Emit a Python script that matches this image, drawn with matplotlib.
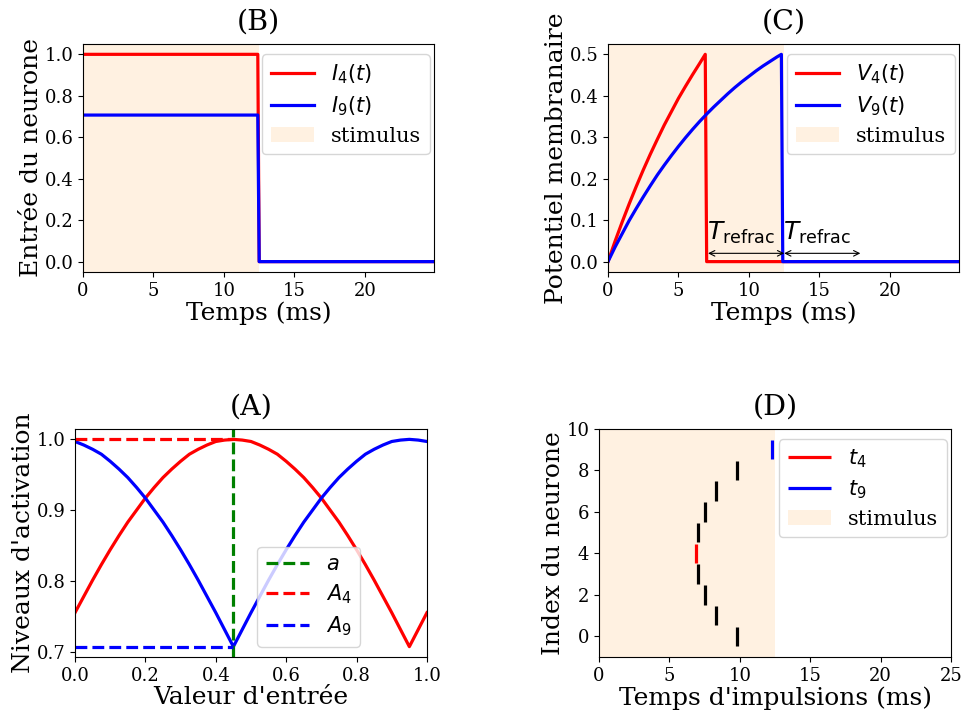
import numpy as np
import matplotlib
matplotlib.use("Agg")
from matplotlib import pyplot as plt

# (B) input currents
t_in = [0.0, 12.4, 12.5, 24.9]
I4 = [1.0, 1.0, 0.0, 0.0]
I9 = [0.707, 0.707, 0.0, 0.0]

# (C) membrane potentials
t_v4 = [0, 0.5, 1, 1.5, 2, 2.5, 3, 3.5, 4, 4.5, 5, 5.5, 6, 6.5, 6.9, 7.0, 24.9]
V4 = [0.0, 0.049, 0.095, 0.139, 0.181, 0.221, 0.259, 0.295, 0.330, 0.362,
      0.394, 0.423, 0.451, 0.478, 0.50, 0.0, 0.0]
t_v9 = [0, 0.5, 1, 1.5, 2, 2.5, 3, 3.5, 4, 4.5, 5, 5.5, 6, 6.5, 7, 7.5, 8,
        8.5, 9, 9.5, 10, 10.5, 11, 11.5, 12, 12.3, 12.4, 24.9]
V9 = [0.0, 0.035, 0.067, 0.099, 0.128, 0.156, 0.183, 0.209, 0.233, 0.256,
      0.278, 0.299, 0.319, 0.338, 0.356, 0.373, 0.389, 0.405, 0.420, 0.434,
      0.447, 0.460, 0.472, 0.483, 0.494, 0.50, 0.0, 0.0]
t_spike4 = 6.9
t_spike9 = 12.3
t_refrac = 5.8

# (A) activation levels
x_in = [0.0, 0.025, 0.05, 0.075, 0.10, 0.125, 0.15, 0.175, 0.20, 0.225,
        0.25, 0.275, 0.30, 0.325, 0.35, 0.375, 0.40, 0.425, 0.45, 0.475,
        0.50, 0.525, 0.55, 0.575, 0.60, 0.625, 0.65, 0.675, 0.70, 0.725,
        0.75, 0.775, 0.80, 0.825, 0.85, 0.875, 0.90, 0.925, 0.95, 0.975, 1.0]
A4 = [0.755, 0.778, 0.801, 0.823, 0.844, 0.864, 0.883, 0.900, 0.917, 0.932,
      0.946, 0.958, 0.969, 0.979, 0.986, 0.992, 0.997, 0.999, 1.000, 0.999,
      0.997, 0.992, 0.986, 0.979, 0.969, 0.958, 0.946, 0.932, 0.917, 0.900,
      0.883, 0.864, 0.844, 0.823, 0.801, 0.778, 0.755, 0.731, 0.707, 0.731, 0.755]
A9 = [0.997, 0.992, 0.986, 0.979, 0.969, 0.958, 0.946, 0.932, 0.917, 0.900,
      0.883, 0.864, 0.844, 0.823, 0.801, 0.778, 0.755, 0.731, 0.707, 0.731,
      0.755, 0.778, 0.801, 0.823, 0.844, 0.864, 0.883, 0.900, 0.917, 0.932,
      0.946, 0.958, 0.969, 0.979, 0.986, 0.992, 0.997, 0.999, 1.000, 0.999, 0.997]
a_val = 0.45
A4_at_a = 1.000
A9_at_a = 0.707

# (D) spike times per neuron
neurons = [0, 1, 2, 3, 4, 5, 6, 7, 8, 9]
spike_times = [9.8, 8.3, 7.5, 7.0, 6.9, 7.0, 7.5, 8.3, 9.8, 12.3]

stim_end = 12.5

plt.rcParams.update({
    "font.family": "serif",
    "font.serif": ["DejaVu Serif"],
    "mathtext.fontset": "dejavusans",
    "legend.labelspacing": 0.4,
    "legend.handlelength": 2.1,
})
title_fs = 20.5
title_pad = 10
label_fs = 18
tick_fs = 13
leg_fs = 15
lw = 2.3
stim_color = "bisque"
stim_alpha = 0.5
leg_anchor = (1.017, 1.0)

fig = plt.figure(figsize=(9.64, 7.15), dpi=100)
axB = fig.add_axes([0.0861, 0.6196, 0.3641, 0.3189])
axC = fig.add_axes([0.6307, 0.6196, 0.3641, 0.3189])
axA = fig.add_axes([0.0778, 0.0811, 0.3651, 0.3189])
axD = fig.add_axes([0.6214, 0.0811, 0.3651, 0.3189])

# (B)
axB.plot(t_in, I4, color="r", lw=lw, label=r"$I_4(t)$")
axB.plot(t_in, I9, color="b", lw=lw, label=r"$I_9(t)$")
axB.axvspan(0, stim_end, color=stim_color, alpha=stim_alpha, lw=0, label="stimulus")
axB.set_xlim(t_in[0], t_in[-1])
axB.set_title("(B)", fontsize=title_fs, pad=title_pad)
axB.set_xlabel("Temps (ms)", fontsize=label_fs, labelpad=1)
axB.set_ylabel("Entrée du neurone", fontsize=label_fs, labelpad=1)
axB.legend(loc="upper right", bbox_to_anchor=leg_anchor, fontsize=leg_fs)

# (C)
axC.plot(t_v4, V4, color="r", lw=lw, label=r"$V_4(t)$")
axC.plot(t_v9, V9, color="b", lw=lw, label=r"$V_9(t)$")
axC.axvspan(0, stim_end, color=stim_color, alpha=stim_alpha, lw=0, label="stimulus")
for ts in [t_spike4, t_spike9]:
    axC.annotate("", xy=(ts, 0.02), xytext=(ts + t_refrac, 0.02),
                 arrowprops=dict(arrowstyle="<->", color="k", lw=0.8))
    axC.text(ts + 0.15, 0.037, r"$T_{\rm refrac}$", fontsize=18,
             ha="left", va="bottom")
axC.set_xlim(t_v4[0], t_v4[-1])
axC.set_title("(C)", fontsize=title_fs, pad=title_pad)
axC.set_xlabel("Temps (ms)", fontsize=label_fs, labelpad=1)
axC.set_ylabel("Potentiel membranaire", fontsize=label_fs, labelpad=1)
axC.legend(loc="upper right", bbox_to_anchor=leg_anchor, fontsize=leg_fs)

# (A)
axA.plot(x_in, A4, color="r", lw=lw)
axA.plot(x_in, A9, color="b", lw=lw)
axA.axvline(a_val, color="g", ls="--", lw=lw, label=r"$a$")
axA.plot([0, a_val], [A4_at_a, A4_at_a], color="r", ls="--", lw=lw, label=r"$A_4$")
axA.plot([0, a_val], [A9_at_a, A9_at_a], color="b", ls="--", lw=lw, label=r"$A_9$")
axA.set_xlim(0, 1)
axA.set_title("(A)", fontsize=title_fs, pad=title_pad)
axA.set_xlabel("Valeur d'entrée", fontsize=label_fs, labelpad=1)
axA.set_ylabel("Niveaux d'activation", fontsize=label_fs, labelpad=1)
axA.legend(loc="lower right", bbox_to_anchor=(0.84, 0.0), fontsize=leg_fs)

# (D)
colors = ["k"] * len(neurons)
colors[4] = "r"
colors[9] = "b"
for n, ts, c in zip(neurons, spike_times, colors):
    lab = None
    if n == 4:
        lab = r"$t_4$"
    elif n == 9:
        lab = r"$t_9$"
    axD.vlines(ts, n - 0.47, n + 0.47, color=c, lw=lw, label=lab)
axD.axvspan(0, stim_end, color=stim_color, alpha=stim_alpha, lw=0, label="stimulus")
axD.set_xlim(0, 25)
axD.set_ylim(-1, 10)
axD.set_title("(D)", fontsize=title_fs, pad=title_pad)
axD.set_xlabel("Temps d'impulsions (ms)", fontsize=label_fs, labelpad=1)
axD.set_ylabel("Index du neurone", fontsize=label_fs, labelpad=1)
axD.legend(loc="upper right", bbox_to_anchor=leg_anchor, fontsize=leg_fs)

for ax in [axA, axB, axC, axD]:
    ax.tick_params(labelsize=tick_fs)

fig.savefig("out.png", dpi=100)
